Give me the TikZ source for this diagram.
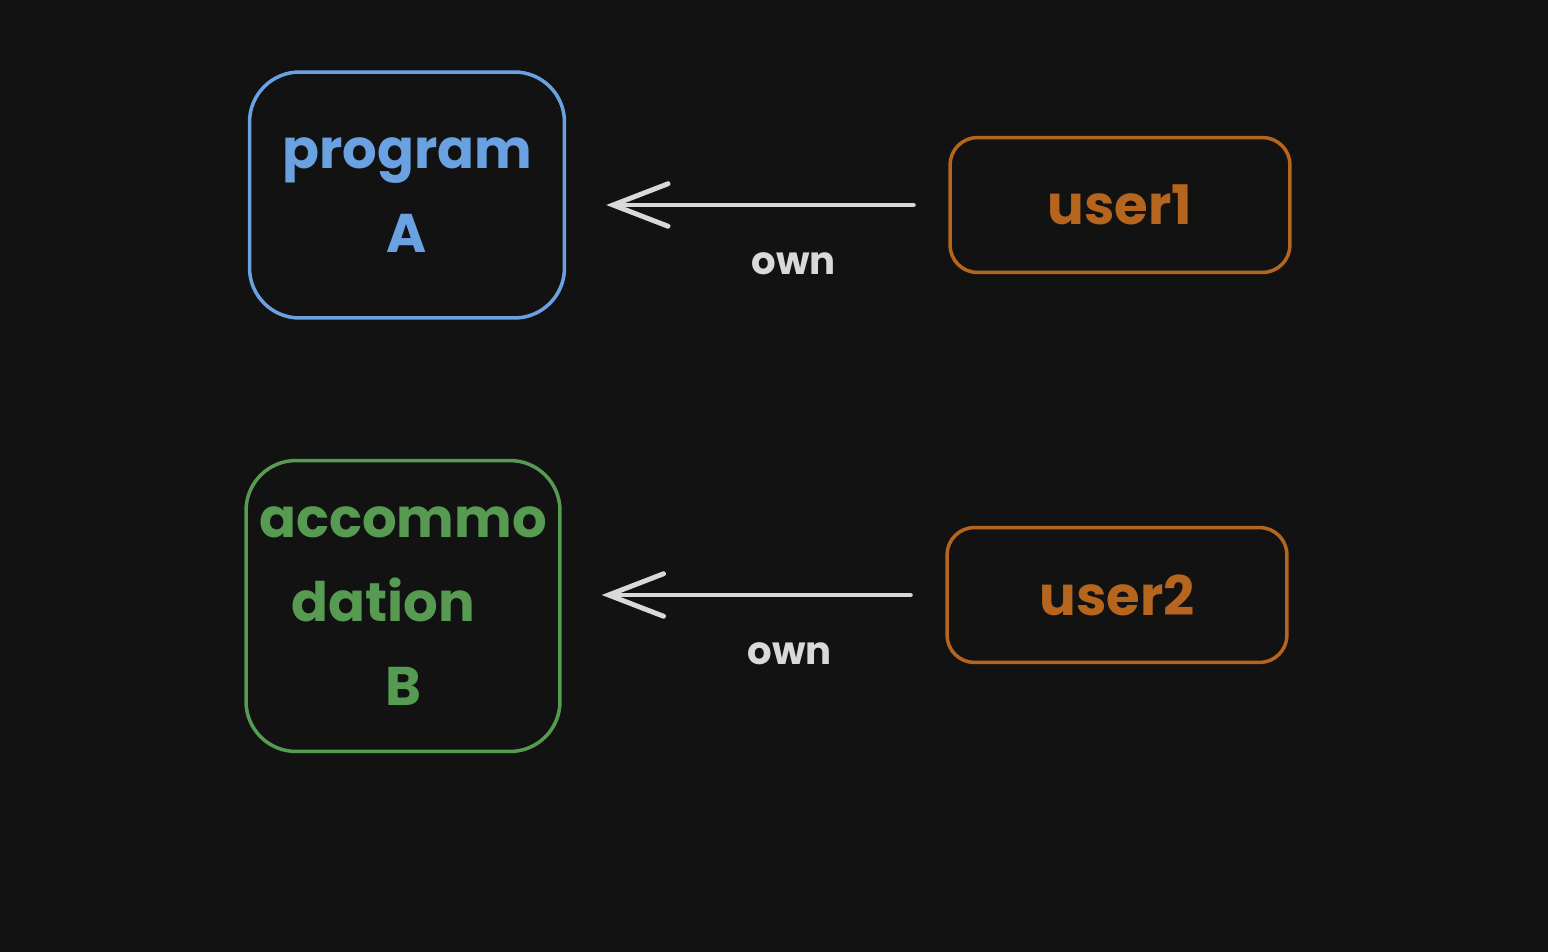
\documentclass[tikz,border=0pt]{standalone}
\usepackage{fontspec}
\setmainfont{Poppins}
\usetikzlibrary{arrows.meta,positioning}
\definecolor{BgDark}{HTML}{121212}
\definecolor{ProgBlue}{HTML}{6AA1E1}
\definecolor{AccGreen}{HTML}{579B52}
\definecolor{UserOrange}{HTML}{B5651D}
\definecolor{ArrowGray}{HTML}{D9D9D9}
\begin{document}
\begin{tikzpicture}[x=0.02cm,y=-0.02cm,
        box/.style={draw,line width=2pt,rounded corners=1cm,
                    align=center,inner sep=0pt,
                    font=\fontsize{31}{48}\selectfont\bfseries},
        userbox/.style={box,draw=UserOrange,text=UserOrange,
                    rounded corners=0.55cm,minimum width=6.8cm,
                    minimum height=2.7cm},
        ownarrow/.style={draw=ArrowGray,line width=2.8pt,line cap=round,
                    -{Straight Barb[length=1.1cm,width=0.85cm,line cap=round]}},
        ownlabel/.style={text=ArrowGray,font=\fontsize{22}{26}\selectfont\bfseries}]

        % dark canvas
        \useasboundingbox[fill=BgDark] (0,0) rectangle (1548,952);

        % owned things (left)
        \node[box,draw=ProgBlue,text=ProgBlue,minimum width=6.3cm,
              minimum height=4.92cm] (progA) at (407,195) {program\\A};
        \node[box,draw=AccGreen,text=AccGreen,minimum width=6.28cm,
              minimum height=5.82cm] (accB) at (403,606)
              {accommo\\dation\rule{0.8cm}{0pt}\\B};

        % users (right)
        \node[userbox] (user1) at (1120,205) {user1};
        \node[userbox] (user2) at (1117,595) {user2};

        \foreach \u/\t in {user1/progA,user2/accB}{
          \draw[ownarrow] ([xshift=-0.7cm]\u.west) -- ([xshift=0.8cm]\u.west -| \t.east)
            node[ownlabel,pos=0.39,yshift=-1.18cm] (own-\u) {own};
        }
      \end{tikzpicture}
\end{document}
